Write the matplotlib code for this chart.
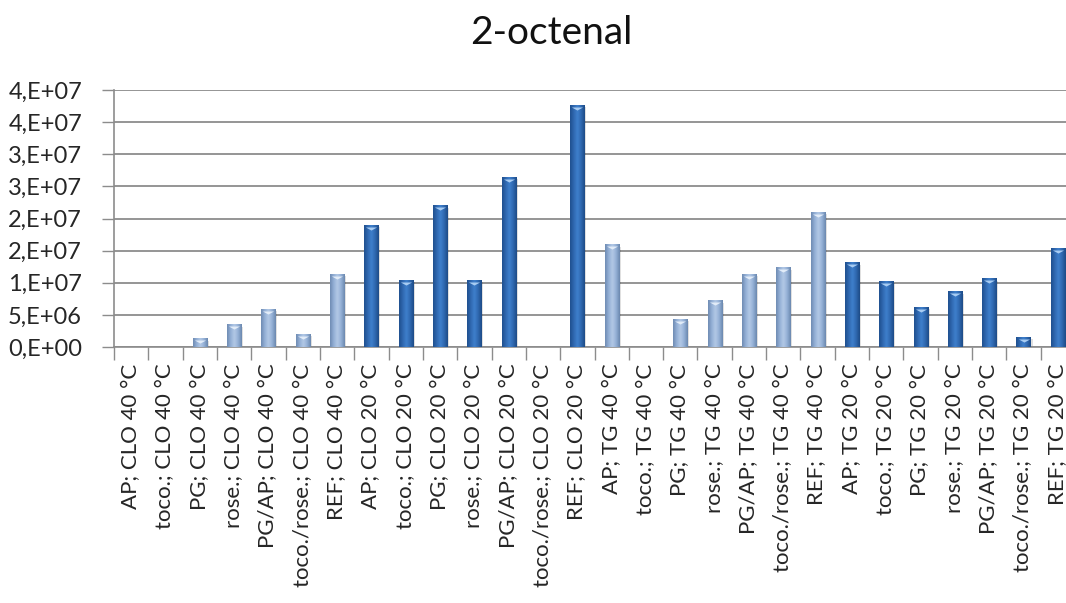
import numpy as np
import matplotlib.pyplot as plt
from matplotlib.colors import LinearSegmentedColormap
from matplotlib import transforms

plt.rcParams['font.family'] = ['Lato', 'DejaVu Sans']

categories = [
    'AP; CLO 40 °C', 'toco.; CLO 40 °C', 'PG; CLO 40 °C', 'rose.; CLO 40 °C',
    'PG/AP; CLO 40 °C', 'toco./rose.; CLO 40 °C', 'REF; CLO 40 °C',
    'AP; CLO 20 °C', 'toco.; CLO 20 °C', 'PG; CLO 20 °C', 'rose.; CLO 20 °C',
    'PG/AP; CLO 20 °C', 'toco./rose.; CLO 20 °C', 'REF; CLO 20 °C',
    'AP; TG 40 °C', 'toco.; TG 40 °C', 'PG; TG 40 °C', 'rose.; TG 40 °C',
    'PG/AP; TG 40 °C', 'toco./rose.; TG 40 °C', 'REF; TG 40 °C',
    'AP; TG 20 °C', 'toco.; TG 20 °C', 'PG; TG 20 °C', 'rose.; TG 20 °C',
    'PG/AP; TG 20 °C', 'toco./rose.; TG 20 °C', 'REF; TG 20 °C',
]
values = [
    0, 0, 1.3e6, 3.5e6, 5.9e6, 2.0e6, 11.3e6,
    18.95e6, 10.4e6, 21.95e6, 10.4e6, 26.4e6, 0, 37.6e6,
    15.9e6, 0, 4.3e6, 7.2e6, 11.3e6, 12.3e6, 21.0e6,
    13.1e6, 10.2e6, 6.2e6, 8.6e6, 10.65e6, 1.5e6, 15.3e6,
]
y_ticks = [0, 5e6, 1e7, 1.5e7, 2e7, 2.5e7, 3e7, 3.5e7, 4e7]
y_tick_labels = ['0,E+00', '5,E+06', '1,E+07', '2,E+07', '2,E+07',
                 '3,E+07', '3,E+07', '4,E+07', '4,E+07']

# shading across a bar: dark edges, bright middle (cylinder look)
warm = LinearSegmentedColormap.from_list(
    'warm', ['#6e8bb3', '#94b0d6', '#b3c9e6', '#94b0d6', '#6a87ae'])
cool = LinearSegmentedColormap.from_list(
    'cool', ['#1f4f8e', '#2f68b0', '#3f80cc', '#2f68b0', '#1d4a86'])
notch = [(-1, 0), (1, 0), (0, -0.55), (-1, 0)]

fig = plt.figure(figsize=(10.66, 6.03), dpi=100)
ax = fig.add_axes([114 / 1066, 256 / 603, 961 / 1066, 257 / 603])

x = np.arange(len(categories))
width = 0.41
bars = ax.bar(x, values, width, color='none', zorder=3)

grad = np.linspace(0, 1, 64).reshape(1, -1)
shadow = transforms.offset_copy(ax.transData, fig=fig, x=2, y=-2, units='dots')
top = transforms.offset_copy(ax.transData, fig=fig, x=0, y=-1.5, units='dots')
for i, (rect, v) in enumerate(zip(bars, values)):
    if v <= 0:
        continue
    cmap = warm if '40' in categories[i] else cool
    x0 = rect.get_x()
    ax.bar(x0 + width / 2, v, width, color='#000000', alpha=0.12,
           transform=shadow, zorder=2)
    ax.imshow(grad, extent=[x0, x0 + width, 0, v], aspect='auto',
              cmap=cmap, zorder=4, interpolation='bicubic')
    hi = '#e2ecf8' if cmap is warm else '#a8ccf2'
    ax.plot(x[i], v, marker=notch, markersize=8, color=hi, mec='none',
            transform=top, zorder=5)

ax.set_xlim(-0.5, len(categories) - 0.5)
ax.set_ylim(0, 4e7)

ax.set_yticks(y_ticks)
ax.set_yticklabels(y_tick_labels, fontsize=17, color='#262626')
ax.yaxis.grid(True, color='#8c8c8c', linewidth=1.3, zorder=0)
ax.set_axisbelow(True)

ax.set_xticks(x)
ax.set_xticklabels(categories, rotation=90, fontsize=16, color='#262626')
ax.set_xticks(np.arange(len(categories) + 1) - 0.5, minor=True)
ax.tick_params(axis='x', which='major', length=0, pad=12)
ax.tick_params(axis='x', which='minor', length=9, color='#8c8c8c', width=1)
ax.tick_params(axis='y', length=9, color='#8c8c8c', width=1, pad=14)

for side in ['top', 'right']:
    ax.spines[side].set_visible(False)
for side in ['left', 'bottom']:
    ax.spines[side].set_color('#8c8c8c')
    ax.spines[side].set_linewidth(1.2)

fig.text(551 / 1066, 1 - 33 / 603, '2-octenal', fontsize=28,
         ha='center', va='center', color='#111111')

fig.savefig('out.png', dpi=100)
